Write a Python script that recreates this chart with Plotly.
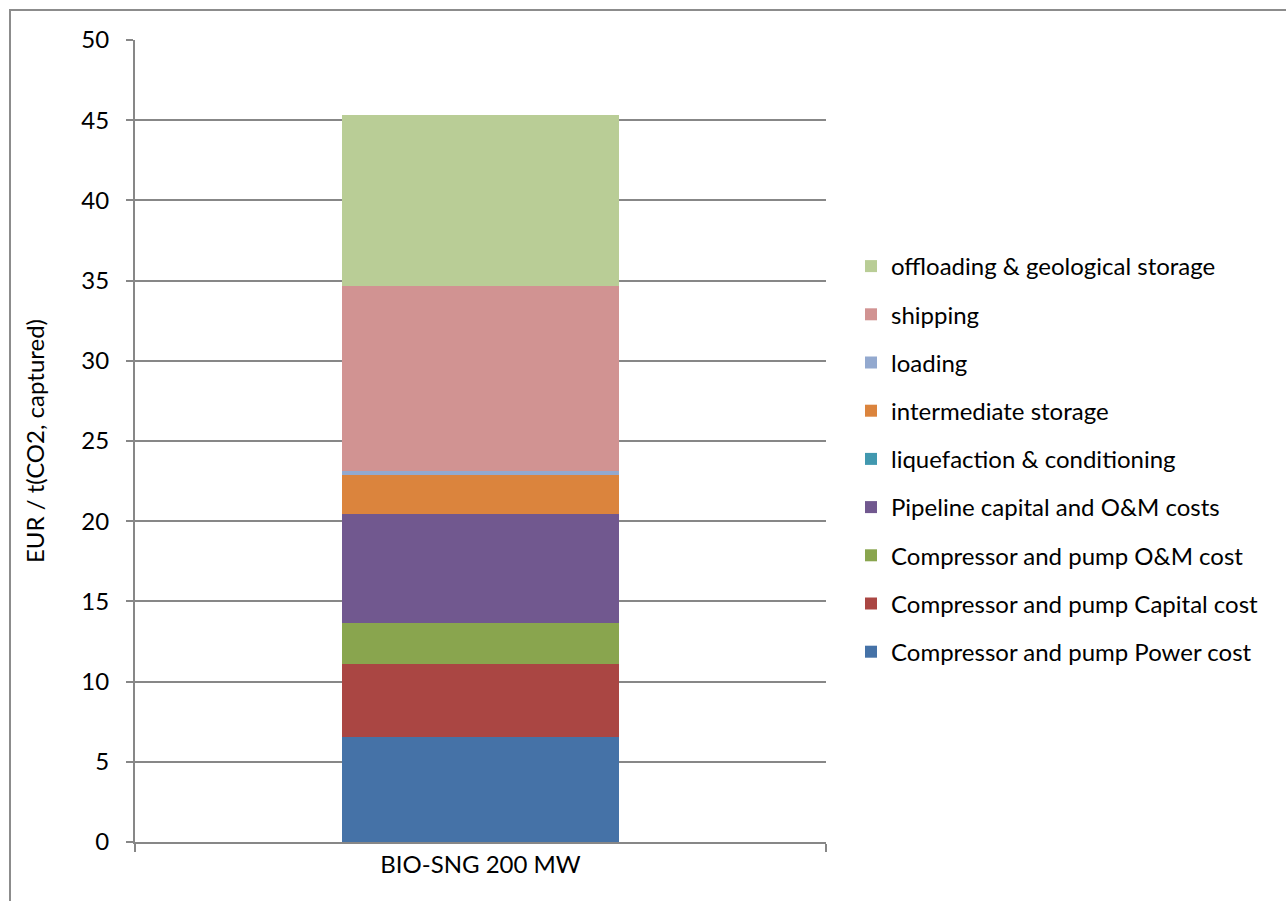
import plotly.graph_objects as go

# Cost breakdown for CO2 transport and storage chain (EUR per tonne CO2 captured)
category = ["BIO-SNG 200 MW"]
series_names = [
    "Compressor and pump Power cost",
    "Compressor and pump Capital cost",
    "Compressor and pump O&M cost",
    "Pipeline capital and O&M costs",
    "liquefaction & conditioning",
    "intermediate storage",
    "loading",
    "shipping",
    "offloading & geological storage",
]
series_values = [6.55, 4.55, 2.56, 6.79, 0.0, 2.43, 0.25, 11.53, 10.66]
series_colors = [
    "#4572A7", "#AA4643", "#89A54E", "#71588F", "#4198AF",
    "#DB843D", "#93A9CF", "#D19392", "#B9CD96",
]
y_ticks = [0, 5, 10, 15, 20, 25, 30, 35, 40, 45, 50]

FONT = "Lato"
FS = 24
GRID = "#878787"

fig = go.Figure()
n = len(series_names)
for i, (name, val, col) in enumerate(zip(series_names, series_values, series_colors)):
    fig.add_trace(go.Bar(
        x=category, y=[val], name=name,
        marker=dict(color=col, line=dict(width=0)),
        width=0.4, legendgroup=f"g{i}",
        legendrank=1000 - i,  # top segment listed first
    ))

# plot-area geometry in pixels (for the outer frame shape)
L, R, T, B = 135, 826, 40, 842
W, H = 1286, 901
pw, ph = R - L, B - T

fig.update_layout(
    width=W, height=H,
    margin=dict(l=L, r=W - R, t=T, b=H - B),
    barmode="stack",
    plot_bgcolor="white", paper_bgcolor="white",
    font=dict(family=FONT, size=FS, color="#000000"),
    showlegend=True,
    legend=dict(
        traceorder="grouped",
        x=(851 - L) / pw, xanchor="left",
        y=(B - 459) / ph, yanchor="middle",
        font=dict(family=FONT, size=FS, color="#000000"),
        tracegroupgap=14,
        bgcolor="rgba(0,0,0,0)",
    ),
    xaxis=dict(
        type="category",
        range=[-0.5, 0.5],
        showline=True, linecolor=GRID, linewidth=2,
        ticks="outside", tickson="boundaries", ticklen=8,
        tickcolor=GRID, tickwidth=2,
        showgrid=False,
        tickfont=dict(family=FONT, size=FS, color="#000000"),
    ),
    yaxis=dict(
        range=[0, 50],
        tickvals=y_ticks,
        showline=True, linecolor=GRID, linewidth=2,
        ticks="outside", ticklen=7, tickcolor=GRID, tickwidth=2,
        showgrid=True, gridcolor=GRID, gridwidth=1.5,
        zeroline=False,
        ticklabelstandoff=12,
        tickfont=dict(family=FONT, size=FS, color="#000000"),
        title=dict(text="EUR / t(CO2, captured)", font=dict(family=FONT, size=FS), standoff=30),
    ),
    shapes=[dict(
        type="rect", xref="paper", yref="paper",
        x0=(10 - L) / pw, x1=(1300 - L) / pw,
        y0=(B - 920) / ph, y1=(B - 10) / ph,
        line=dict(color="#8c8c8c", width=2),
        fillcolor="rgba(0,0,0,0)", layer="below",
    )],
)

fig.write_html("out.html")
